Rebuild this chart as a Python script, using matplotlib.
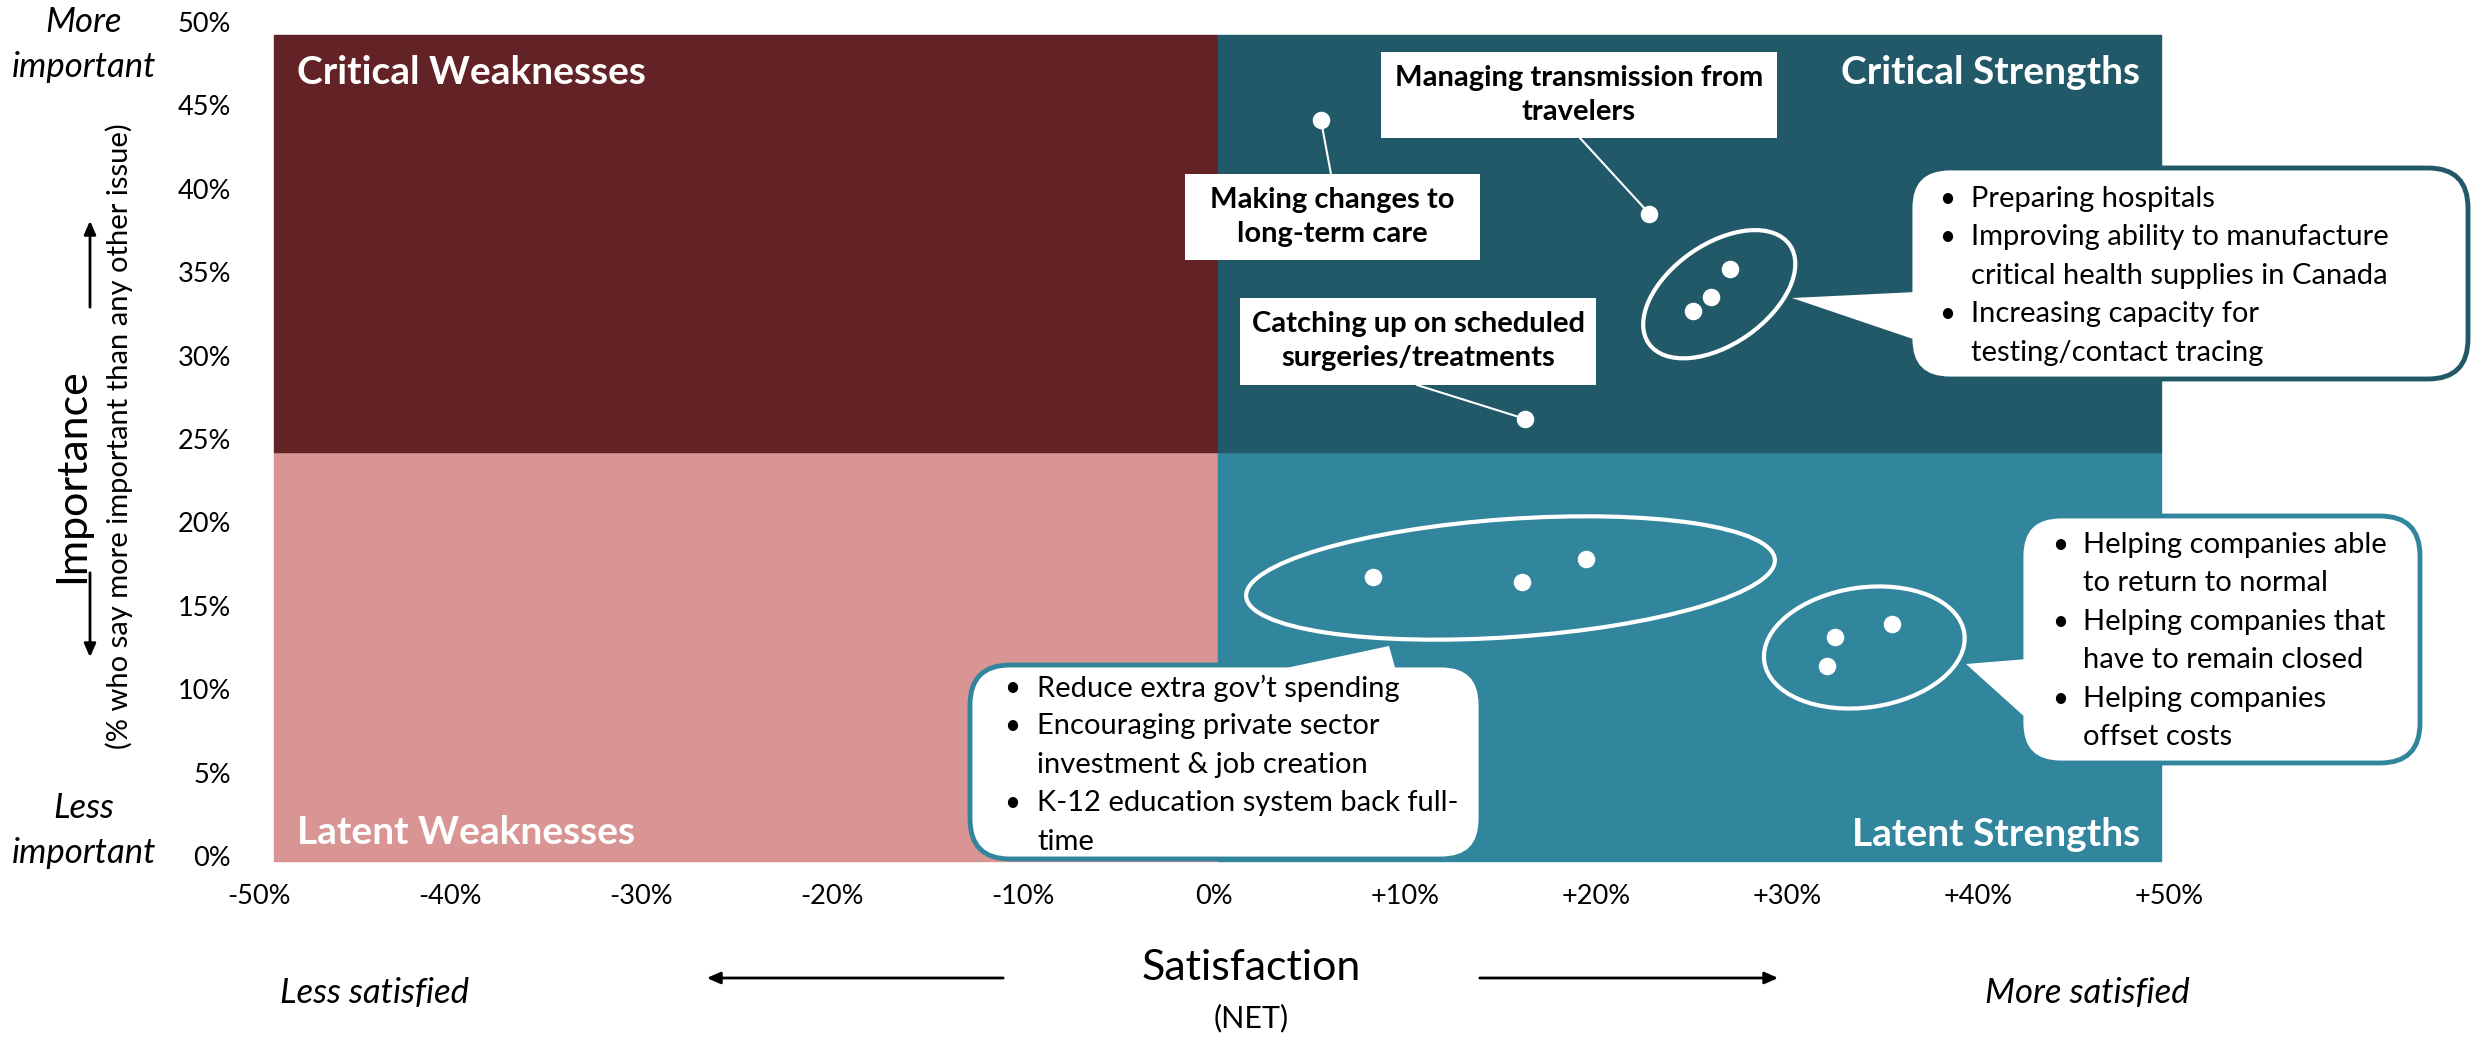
import numpy as np
import matplotlib.pyplot as plt
from matplotlib.patches import Rectangle, Ellipse, FancyBboxPatch, Polygon
from matplotlib.transforms import Affine2D, ScaledTranslation

plt.rcParams['font.family'] = ['Lato', 'DejaVu Sans']

W, H = 2471, 1037

# satisfaction (net %) and importance (%) for each issue
single_labels = ["Making changes to\nlong-term care",
                 "Managing transmission from\ntravelers",
                 "Catching up on scheduled\nsurgeries/treatments"]
single_sat = [5.6, 22.8, 16.3]
single_imp = [44.1, 38.5, 26.2]

health_sat = [27.0, 26.0, 25.1]
health_imp = [35.2, 33.5, 32.7]
health_items = ["Preparing hospitals",
                "Improving ability to manufacture\ncritical health supplies in Canada",
                "Increasing capacity for\ntesting/contact tracing"]

econ_sat = [8.3, 16.1, 19.5]
econ_imp = [16.7, 16.4, 17.8]
econ_items = ["Reduce extra gov\u2019t spending",
              "Encouraging private sector\ninvestment & job creation",
              "K-12 education system back full-\ntime"]

biz_sat = [32.1, 32.5, 35.5]
biz_imp = [11.4, 13.1, 13.9]
biz_items = ["Helping companies able\nto return to normal",
             "Helping companies that\nhave to remain closed",
             "Helping companies\noffset costs"]

x_ticks = [-50, -40, -30, -20, -10, 0, 10, 20, 30, 40, 50]
x_tick_labels = ["-50%", "-40%", "-30%", "-20%", "-10%", "0%",
                 "+10%", "+20%", "+30%", "+40%", "+50%"]
y_ticks = [0, 5, 10, 15, 20, 25, 30, 35, 40, 45, 50]
y_tick_labels = ["0%", "5%", "10%", "15%", "20%", "25%",
                 "30%", "35%", "40%", "45%", "50%"]

quad_x = [-49.2, 0.2, 49.6]
quad_y = [-0.3, 24.2, 49.2]
quad_colors = [["#d99594", "#31859c"], ["#632326", "#215968"]]
quad_names = [["Latent Weaknesses", "Latent Strengths"],
              ["Critical Weaknesses", "Critical Strengths"]]

fig = plt.figure(figsize=(W / 100, H / 100), dpi=100)
ax = fig.add_axes([259 / W, (H - 856) / H, (2169 - 259) / W, (856 - 22) / H])
ax.set_xlim(-50, 50)
ax.set_ylim(0, 50)
for s in ax.spines.values():
    s.set_visible(False)
ax.set_xticks(x_ticks, x_tick_labels)
ax.set_yticks(y_ticks, y_tick_labels)
ax.tick_params(axis="x", length=0, labelsize=19.5, pad=20)
ax.tick_params(axis="y", length=0, labelsize=19.5, pad=20)

# pixel coords of the reference picture, origin top-left
px = Affine2D().scale(1 / W, -1 / H).translate(0, 1) + fig.transFigure

for i in range(2):
    for j in range(2):
        ax.add_patch(Rectangle((quad_x[j], quad_y[i]), quad_x[j + 1] - quad_x[j],
                               quad_y[i + 1] - quad_y[i], color=quad_colors[i][j],
                               clip_on=False, zorder=0))

fig.text(297, 72, quad_names[1][0], transform=px, color="white", fontsize=28,
         fontweight="bold", va="center")
fig.text(2140, 72, quad_names[1][1], transform=px, color="white", fontsize=28,
         fontweight="bold", va="center", ha="right")
fig.text(297, 833, quad_names[0][0], transform=px, color="white", fontsize=28,
         fontweight="bold", va="center")
fig.text(2140, 835, quad_names[0][1], transform=px, color="white", fontsize=28,
         fontweight="bold", va="center", ha="right")


def group_ellipse(xs, ys, w, h, ang, dx=0, dy=0):
    cx, cy = np.mean(xs), np.mean(ys)
    tr = Affine2D().translate(dx, dy) + ScaledTranslation(cx, cy, ax.transData)
    ax.add_patch(Ellipse((0, 0), w, h, angle=ang, transform=tr, fill=False,
                         edgecolor="white", lw=3, zorder=3))


group_ellipse(health_sat, health_imp, 172, 100, 35, 8, -2)
group_ellipse(econ_sat, econ_imp, 530, 118, 4, 17, -5)
group_ellipse(biz_sat, biz_imp, 202, 120, 8, 13, -5)

all_sat = single_sat + health_sat + econ_sat + biz_sat
all_imp = single_imp + health_imp + econ_imp + biz_imp
ax.scatter(all_sat, all_imp, s=135, color="white", zorder=4, clip_on=False)

# single-item label boxes: centre (px), size (px), line anchor (px)
boxes = [((1332, 217), (295, 86), (1331, 174)),
         ((1579, 95), (396, 86), (1580, 138)),
         ((1418, 341), (356, 87), (1417, 385))]
for k, ((cx, cy), (bw, bh), (lx, ly)) in enumerate(boxes):
    fig.patches.append(Rectangle((cx - bw / 2, cy - bh / 2), bw, bh, transform=px,
                                 facecolor="white", edgecolor="none", zorder=5))
    fig.text(cx, cy, single_labels[k], transform=px, ha="center", va="center",
             fontsize=21, fontweight="bold", linespacing=1.4, zorder=6)
    ax.annotate("", xy=(single_sat[k], single_imp[k]), xycoords="data",
                xytext=(lx, ly), textcoords=px,
                arrowprops=dict(arrowstyle="-", color="white", lw=1.5,
                                shrinkA=0, shrinkB=0), zorder=3)


def bullet_box(x0, y0, bw, bh, edge, tri, items, bx, tx, ty):
    fig.patches.append(FancyBboxPatch((x0, y0), bw, bh, transform=px,
                                      boxstyle="round,pad=0,rounding_size=40",
                                      facecolor="white", edgecolor=edge, lw=3.5,
                                      zorder=5))
    fig.patches.append(Polygon(tri, closed=True, transform=px, facecolor="white",
                               edgecolor="none", zorder=6))
    y = ty
    for it in items:
        fig.text(bx, y, "\u2022", transform=px, fontsize=20, va="center", zorder=7)
        for line in it.split("\n"):
            fig.text(tx, y, line, transform=px, fontsize=21, va="center", zorder=7)
            y += 38.4


bullet_box(1910, 168, 558, 211, "#215968",
           [(1792, 298), (1916, 292), (1916, 340)], health_items, 1939, 1971, 199)
bullet_box(970, 665, 511, 194, "#31859c",
           [(1272, 671), (1389, 646), (1396, 671)], econ_items, 1004, 1037, 688)
bullet_box(2021, 516, 399, 247, "#31859c",
           [(1966, 664), (2027, 659), (2027, 719)], biz_items, 2052, 2083, 545)

# axis titles and direction hints
it_kw = dict(transform=px, fontsize=25, style="italic", ha="center", va="center")
fig.text(84, 22, "More", **it_kw)
fig.text(84, 67, "important", **it_kw)
fig.text(84, 808, "Less", **it_kw)
fig.text(84, 853, "important", **it_kw)
fig.text(375, 993, "Less satisfied", **it_kw)
fig.text(2087, 993, "More satisfied", **it_kw)
fig.text(72, 476, "Importance", transform=px, fontsize=31, rotation=90, ha="center", va="center")
fig.text(119, 436, "(% who say more important than any other issue)", transform=px,
         fontsize=21, rotation=90, ha="center", va="center")
fig.text(1251, 968, "Satisfaction", transform=px, fontsize=31, ha="center", va="center")
fig.text(1251, 1018, "(NET)", transform=px, fontsize=22, ha="center", va="center")

arrow = dict(arrowstyle="-|>,head_width=0.35,head_length=0.8", color="black", lw=2)
for (x1, y1), (x2, y2) in [((90, 310), (90, 218)), ((90, 570), (90, 660)),
                           ((1006, 978), (704, 978)), ((1477, 978), (1781, 978))]:
    ax.annotate("", xy=(x2, y2), xycoords=px, xytext=(x1, y1), textcoords=px,
                arrowprops=arrow, annotation_clip=False)

fig.savefig("out.png", dpi=100)
